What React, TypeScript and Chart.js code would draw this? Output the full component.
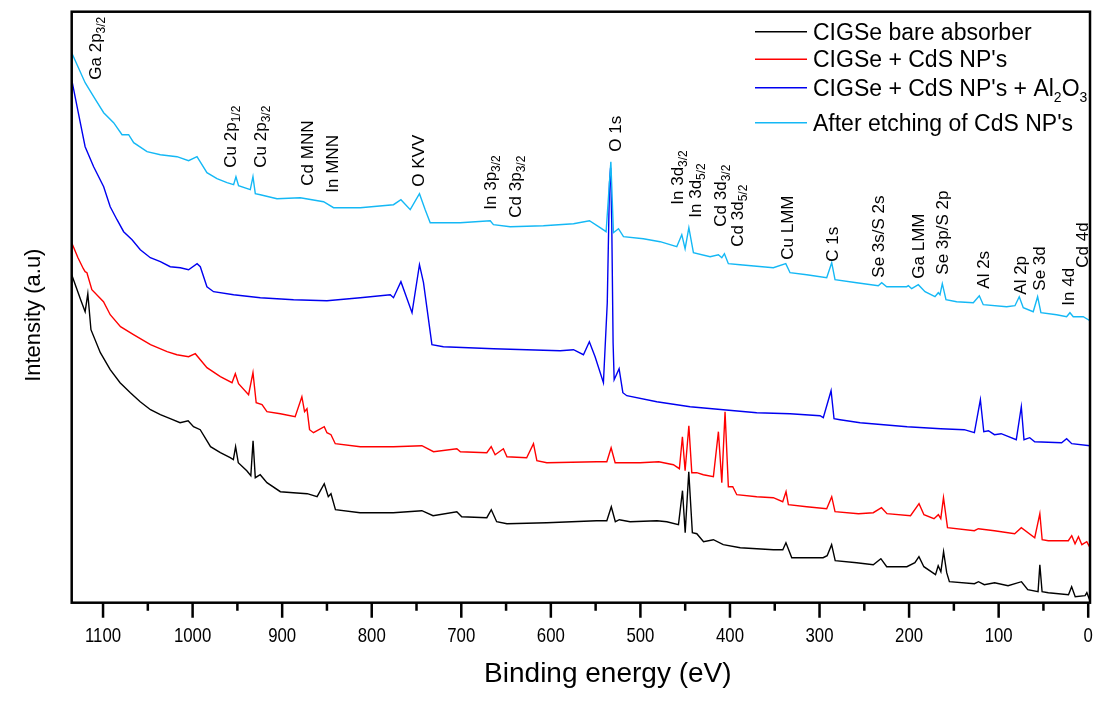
import React, { useEffect, useRef } from 'react';
import { Chart, registerables } from 'chart.js';

Chart.register(...registerables);

const FONT = "'Liberation Sans', Arial, sans-serif";

const seriesLabels = [
  "CIGSe bare absorber",
  "CIGSe + CdS NP's",
  "CIGSe + CdS NP's + Al_{2}O_{3}",
  "After etching of CdS NP's",
];
const seriesColors = ['#000000', '#ff0000', '#0000f0', '#14b8f5'];
const xTitle = 'Binding energy (eV)';
const yTitle = 'Intensity (a.u)';

const xMin = -2;
const xMax = 1135;
const yMin = 0;
const yMax = 591;
const majorTicks = [0, 100, 200, 300, 400, 500, 600, 700, 800, 900, 1000, 1100];
const minorTicks = [50, 150, 250, 350, 450, 550, 650, 750, 850, 950, 1050];

// [binding energy (eV), intensity (a.u.)]
const bareAbsorber: [number, number][] = [
  [1135, 328], [1125, 303], [1120, 291], [1117, 309], [1113.5, 273], [1103, 250], [1092, 233], [1081, 220],
  [1069.5, 210], [1058.5, 201], [1047, 193], [1036, 188], [1025, 184], [1014, 180], [1005, 182], [999, 176],
  [991.5, 173], [980, 156], [969, 150], [958, 145], [954.5, 143], [952, 156], [949, 140], [939.5, 132],
  [935, 127], [932.5, 162], [930, 125], [924.5, 128], [917, 120], [902, 111], [887.5, 110], [872, 109],
  [861, 106], [853, 119], [848.5, 106], [845.5, 109], [840.5, 93], [813, 90], [776, 90], [744, 92],
  [731.5, 87], [705, 91], [699.5, 86], [671.5, 85], [666.5, 93], [660.5, 81], [649, 79], [604.5, 80],
  [549, 82], [537.5, 82], [532.5, 96], [528, 81], [523.5, 83], [511.5, 81], [481.5, 82], [470.5, 81],
  [457.5, 78], [453, 112], [450, 70], [446, 131], [442, 70], [437, 69], [429.5, 61], [418.5, 63],
  [407.5, 58], [388.5, 55], [351.5, 53], [341, 53], [337.5, 60], [331, 45], [296, 45], [291.5, 47],
  [286.5, 58], [282.5, 42], [258.5, 40], [240, 38], [231.5, 44], [225, 36], [202.5, 36], [193.5, 40],
  [189, 46], [183.5, 36], [170.5, 28], [167.5, 37], [164.5, 31], [161.5, 51], [158, 30], [155, 21],
  [127, 19], [122.5, 21], [116, 18], [104.5, 20], [89.5, 17], [74.5, 21], [67.5, 13], [56, 11],
  [54, 38], [51.5, 11], [44.5, 10], [22, 8], [18.5, 16], [14.5, 6], [3.5, 7], [1.5, 10], [-2, 2],
];

const cdsNP: [number, number][] = [
  [1135, 360], [1128, 345], [1122, 334], [1120, 331], [1118, 330], [1112.5, 313], [1099.5, 301], [1092, 288],
  [1080.5, 276], [1066, 268], [1047, 258], [1028.5, 251], [1017.5, 248], [1004.5, 246], [997, 249], [984, 235],
  [969, 226], [956, 220], [952.3, 229], [948.7, 219], [937.5, 208], [932.6, 230], [929, 200], [922.5, 198],
  [917, 191], [902, 189], [885.5, 186], [878, 206], [875, 191], [872.3, 194], [869.4, 173], [865, 170],
  [853, 176], [850, 170], [845.5, 168], [840.7, 159], [812.8, 156], [775.7, 156], [744, 157], [731, 151],
  [705, 154], [701, 151], [671.5, 150], [666.6, 156], [662.2, 148], [653, 154], [649, 146], [627, 145],
  [619.4, 159], [615.6, 142], [604.5, 140], [548.7, 141], [537.5, 141], [532.7, 155], [528.2, 140], [500.3, 140],
  [479.5, 141], [463.2, 138], [456.5, 134], [453.1, 166], [450.1, 132], [445.9, 177], [442.6, 130], [437.1, 130],
  [429.7, 128], [418.5, 126], [412.9, 171], [409.1, 120], [405.5, 191], [401.8, 116], [396.9, 116], [392.4, 108],
  [370.1, 106], [351.6, 105], [341.1, 101], [337.4, 111], [334.8, 98], [314.3, 96], [292, 94], [286.4, 106],
  [282.7, 91], [256.5, 89], [240, 90], [230.8, 95], [224.7, 89], [198.4, 87], [188.9, 99], [183.4, 88],
  [172.2, 84], [167.3, 88], [164.6, 84], [161.6, 105], [157.1, 75], [127.1, 72], [122.7, 74], [104.7, 72],
  [82.1, 69], [74.7, 75], [59.7, 65], [54, 89], [51.4, 63], [44.6, 62], [22.2, 62], [18.4, 67],
  [14.7, 59], [10.9, 66], [7.1, 58], [1.6, 61], [-2, 55],
];

const cdsAl2O3: [number, number][] = [
  [1135, 523], [1129, 496], [1120, 456], [1110.5, 436], [1099.3, 416], [1092, 396], [1084.4, 383], [1077, 371],
  [1067.6, 363], [1058.4, 353], [1047.2, 345], [1036, 341], [1025, 336], [1013.7, 335], [1004.5, 333], [995, 339],
  [991.4, 336], [984, 316], [976.6, 311], [954.2, 308], [924.4, 305], [887.3, 303], [850, 302], [812.8, 305],
  [779.3, 308], [775.7, 305], [767.4, 321], [755, 290], [746.7, 338], [742.2, 320], [732.8, 258], [720, 256],
  [664, 254], [589.6, 252], [574.7, 253], [563.6, 248], [557, 261], [550.6, 246], [541.3, 220], [537, 300],
  [534.5, 420], [533.3, 435], [532, 380], [530.5, 260], [529.3, 223], [523.8, 234], [519.6, 210], [515.2, 207],
  [481.7, 201], [444.5, 196], [407.4, 193], [370.1, 190], [332.9, 189], [299.4, 187], [295.8, 185], [287.1, 212],
  [283.8, 184], [277.1, 183], [254.6, 180], [202.1, 176], [164.6, 174], [138.4, 173], [127.1, 170], [120.4, 203],
  [116.6, 171], [111.4, 172], [104.7, 168], [97.2, 169], [80.3, 163], [74.7, 196], [71.7, 163], [65.3, 165],
  [59.7, 161], [29.7, 160], [24.1, 164], [18.4, 159], [-2, 157],
];

const afterEtching: [number, number][] = [
  [1135, 550], [1120, 520], [1110.5, 506], [1099.3, 490], [1088.2, 480], [1078.8, 468], [1071.4, 468], [1065.8, 460],
  [1050.9, 451], [1036, 448], [1017.4, 446], [1004.5, 442], [995.1, 446], [984, 430], [972.8, 424], [961.6, 420],
  [954.2, 418], [951.6, 426], [948.7, 417], [935.6, 413], [932.6, 426], [930, 409], [924.4, 408], [905.8, 404],
  [879.8, 405], [853.8, 401], [842.6, 395], [812.8, 395], [775.7, 398], [767.4, 403], [757, 393], [746.7, 409],
  [740.3, 393], [734.7, 380], [701.2, 380], [667.7, 382], [664.1, 378], [645.4, 376], [608.3, 377], [574.7, 379],
  [556.9, 382], [545, 375], [538.3, 371], [533, 441], [530.1, 370], [524.5, 374], [518.9, 366], [496.7, 364],
  [478, 361], [459.4, 356], [453.8, 368], [450.1, 354], [445.9, 375], [440.8, 350], [422.2, 346], [412.9, 348],
  [409.1, 345], [406.2, 349], [401.8, 339], [388.7, 338], [351.6, 335], [337.7, 339], [332.9, 330], [314.3, 328],
  [292, 325], [286.4, 340], [282.7, 323], [258.5, 320], [234.4, 317], [230.6, 320], [225, 316], [202.7, 316],
  [200.8, 317], [197.1, 314], [189.7, 318], [182.2, 311], [171.1, 306], [167.4, 310], [165.5, 308], [162.9, 319],
  [158.8, 303], [146.9, 301], [128.3, 300], [121.6, 307], [117.2, 298], [91.1, 296], [81.8, 297], [77, 306],
  [72.5, 295], [61.4, 291], [56.5, 306], [52.8, 290], [35.3, 288], [24.1, 286], [20.4, 290], [16.7, 286],
  [5.6, 286], [-2, 282],
];

const seriesData = [bareAbsorber, cdsNP, cdsAl2O3, afterEtching];

// Peak assignment labels: text, energy of the label column, intensity where the label starts
const peakLabels = [
  'Ga 2p_{3/2}', 'Cu 2p_{1/2}', 'Cu 2p_{3/2}', 'Cd MNN', 'In MNN', 'O KVV', 'In 3p_{3/2}', 'Cd 3p_{3/2}',
  'O 1s', 'In 3d_{3/2}', 'In 3d_{5/2}', 'Cd 3d_{3/2}', 'Cd 3d_{5/2}', 'Cu LMM', 'C 1s', 'Se 3s/S 2s',
  'Ga LMM', 'Se 3p/S 2p', 'Al 2s', 'Al 2p', 'Se 3d', 'In 4d', 'Cd 4d',
];
const peakEnergies = [
  1108.5, 957.9, 924.4, 872, 844, 748, 667.7, 639.8,
  528.2, 459, 439, 411, 392, 336.3, 286, 234.8,
  190, 163.3, 117.6, 76.2, 55, 22.6, 7,
];
const peakLabelBase = [
  523, 435, 435, 417, 410, 416, 393, 385,
  451, 398, 385, 376, 356, 343, 341, 325,
  324, 328, 314, 308, 312, 297, 335,
];

function drawRich(ctx: CanvasRenderingContext2D, text: string, size: number, subSize: number, subDrop: number) {
  let x = 0;
  const parts = text.split(/(_\{[^}]*\})/);
  for (const p of parts) {
    if (!p) continue;
    if (p.startsWith('_{')) {
      const t = p.slice(2, -1);
      ctx.font = `${subSize}px ${FONT}`;
      ctx.fillText(t, x, subDrop);
      x += ctx.measureText(t).width;
    } else {
      ctx.font = `${size}px ${FONT}`;
      ctx.fillText(p, x, 0);
      x += ctx.measureText(p).width;
    }
  }
  return x;
}

const decorPlugin = {
  id: 'decor',
  afterDraw(chart: any) {
    const { ctx, chartArea: ca, scales } = chart;
    const xs = scales.x;
    const ys = scales.y;
    ctx.save();
    ctx.strokeStyle = '#000';
    ctx.lineWidth = 2.5;
    ctx.strokeRect(ca.left, ca.top, ca.right - ca.left, ca.bottom - ca.top);
    ctx.beginPath();
    majorTicks.forEach((v) => {
      const p = xs.getPixelForValue(v);
      ctx.moveTo(p, ca.bottom);
      ctx.lineTo(p, ca.bottom + 15);
    });
    minorTicks.forEach((v) => {
      const p = xs.getPixelForValue(v);
      ctx.moveTo(p, ca.bottom);
      ctx.lineTo(p, ca.bottom + 8);
    });
    ctx.stroke();

    // tick labels (slightly condensed, as in the original)
    ctx.fillStyle = '#000';
    ctx.textAlign = 'center';
    ctx.textBaseline = 'middle';
    ctx.font = `21px ${FONT}`;
    majorTicks.forEach((v) => {
      const p = xs.getPixelForValue(v);
      ctx.save();
      ctx.translate(p, ca.bottom + 34);
      ctx.scale(0.8, 1);
      ctx.fillText(String(v), 0, 0);
      ctx.restore();
    });

    // axis titles
    ctx.font = `28px ${FONT}`;
    ctx.fillText(xTitle, (ca.left + ca.right) / 2 + 27, ca.bottom + 72);
    ctx.save();
    ctx.translate(34, (ca.top + ca.bottom) / 2 + 8);
    ctx.rotate(-Math.PI / 2);
    ctx.font = `22px ${FONT}`;
    ctx.fillText(yTitle, 0, 0);
    ctx.restore();

    ctx.textAlign = 'left';
    ctx.textBaseline = 'alphabetic';
    peakLabels.forEach((t, i) => {
      const px = xs.getPixelForValue(peakEnergies[i]);
      const py = ys.getPixelForValue(peakLabelBase[i]);
      ctx.save();
      ctx.translate(px + 6, py);
      ctx.rotate(-Math.PI / 2);
      drawRich(ctx, t, 17, 12, 4);
      ctx.restore();
    });

    const rows = [20, 47.6, 76, 111];
    const lx0 = ca.right - 335;
    const lx1 = ca.right - 283;
    const tx = ca.right - 277;
    seriesLabels.forEach((lab, i) => {
      const y = ca.top + rows[i];
      ctx.strokeStyle = seriesColors[i];
      ctx.lineWidth = 1.5;
      ctx.beginPath();
      ctx.moveTo(lx0, y);
      ctx.lineTo(lx1, y);
      ctx.stroke();
      ctx.save();
      ctx.translate(tx, y + 8);
      ctx.fillStyle = '#000';
      drawRich(ctx, lab, 23, 14, 6);
      ctx.restore();
    });
    ctx.restore();
  },
};

export default function App() {
  const ref = useRef<HTMLCanvasElement>(null);
  useEffect(() => {
    if (!ref.current) return;
    const chart = new Chart(ref.current, {
      type: 'line',
      data: {
        datasets: seriesData.map((s, i) => ({
          label: seriesLabels[i],
          data: s.map(([x, y]) => ({ x, y })),
          borderColor: seriesColors[i],
          backgroundColor: seriesColors[i],
          borderWidth: 1.4,
          pointRadius: 0,
          tension: 0,
          fill: false,
          order: 4 - i,
        })),
      },
      options: {
        animation: false,
        responsive: false,
        devicePixelRatio: 1,
        layout: { padding: { left: 0, right: 6, top: 11.7, bottom: 0 } },
        plugins: { legend: { display: false }, tooltip: { enabled: false } },
        scales: {
          x: {
            type: 'linear',
            reverse: true,
            min: xMin,
            max: xMax,
            afterBuildTicks: (s: any) => {
              s.ticks = [...majorTicks, ...minorTicks].sort((a, b) => a - b).map((v) => ({ value: v }));
            },
            afterFit: (s: any) => {
              s.height = 101.3;
            },
            grid: { display: false },
            border: { display: false },
            ticks: { display: false },
            title: { display: false },
          },
          y: {
            type: 'linear',
            min: yMin,
            max: yMax,
            afterFit: (s: any) => {
              s.width = 71.7;
            },
            grid: { display: false },
            border: { display: false },
            ticks: { display: false },
            title: { display: false },
          },
        },
      },
      plugins: [decorPlugin],
    } as any);
    return () => chart.destroy();
  }, []);
  return (
    <div style={{ position: 'fixed', left: 0, top: 0, width: 1096, height: 704, background: '#fff' }}>
      <canvas ref={ref} width={1096} height={704} style={{ display: 'block' }} />
    </div>
  );
}
